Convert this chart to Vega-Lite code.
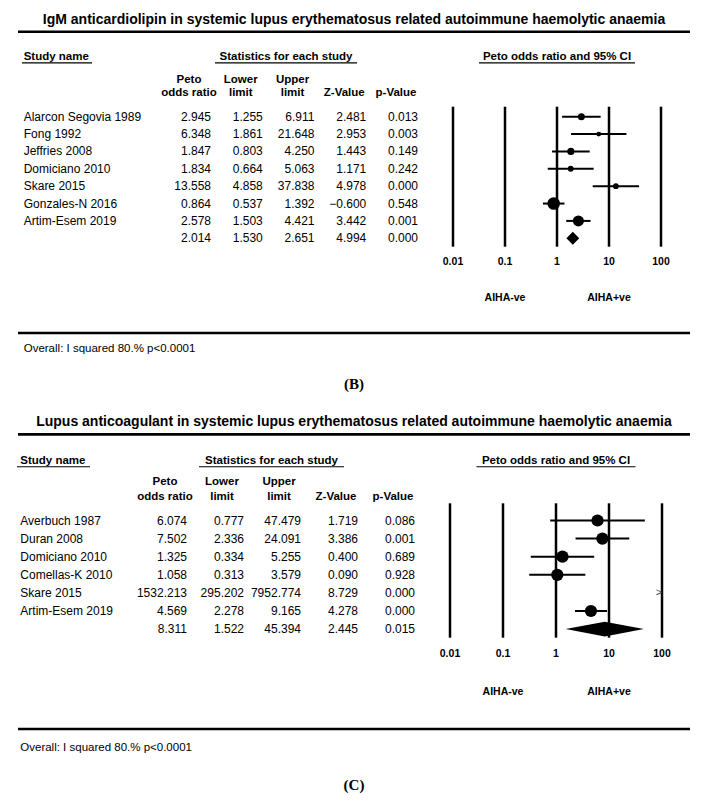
{
  "$schema": "https://vega.github.io/schema/vega-lite/v6.json",
  "padding": {"left": 16, "top": 0, "right": 0, "bottom": 0},
  "spacing": 0,
  "bounds": "flush",
  "config": {"view": {"stroke": null}, "text": {"font": "Liberation Sans", "color": "#000"}, "rule": {"color": "#000"}},
  "datasets": {
    "b": [
      {"study": "Alarcon Segovia 1989", "row": 1, "or": 2.945, "lower": 1.255, "upper": 6.911, "z": 2.481, "p": 0.013, "weight": 5.28},
      {"study": "Fong 1992", "row": 2, "or": 6.348, "lower": 1.861, "upper": 21.648, "z": 2.953, "p": 0.003, "weight": 2.55},
      {"study": "Jeffries 2008", "row": 3, "or": 1.847, "lower": 0.803, "upper": 4.25, "z": 1.443, "p": 0.149, "weight": 5.53},
      {"study": "Domiciano 2010", "row": 4, "or": 1.834, "lower": 0.664, "upper": 5.063, "z": 1.171, "p": 0.242, "weight": 3.72},
      {"study": "Skare 2015", "row": 5, "or": 13.558, "lower": 4.858, "upper": 37.838, "z": 4.978, "p": 0.0, "weight": 3.65},
      {"study": "Gonzales-N 2016", "row": 6, "or": 0.864, "lower": 0.537, "upper": 1.392, "z": -0.6, "p": 0.548, "weight": 16.9},
      {"study": "Artim-Esem 2019", "row": 7, "or": 2.578, "lower": 1.503, "upper": 4.421, "z": 3.442, "p": 0.001, "weight": 13.2},
      {"study": "", "row": 8, "or": 2.014, "lower": 1.53, "upper": 2.651, "z": 4.994, "p": 0.0, "weight": null}
    ],
    "c": [
      {"study": "Averbuch 1987", "row": 1, "or": 6.074, "lower": 0.777, "upper": 47.479, "z": 1.719, "p": 0.086},
      {"study": "Duran 2008", "row": 2, "or": 7.502, "lower": 2.336, "upper": 24.091, "z": 3.386, "p": 0.001},
      {"study": "Domiciano 2010", "row": 3, "or": 1.325, "lower": 0.334, "upper": 5.255, "z": 0.4, "p": 0.689},
      {"study": "Comellas-K 2010", "row": 4, "or": 1.058, "lower": 0.313, "upper": 3.579, "z": 0.09, "p": 0.928},
      {"study": "Skare 2015", "row": 5, "or": 1532.213, "lower": 295.202, "upper": 7952.774, "z": 8.729, "p": 0.0},
      {"study": "Artim-Esem 2019", "row": 6, "or": 4.569, "lower": 2.278, "upper": 9.165, "z": 4.278, "p": 0.0},
      {"study": "", "row": 7, "or": 8.311, "lower": 1.522, "upper": 45.394, "z": 2.445, "p": 0.015}
    ],
    "ticks": [
      {"t": 0.01, "label": "0.01"}, {"t": 0.1, "label": "0.1"}, {"t": 1, "label": "1"}, {"t": 10, "label": "10"}, {"t": 100, "label": "100"}
    ],
    "aiha": [{"t": 0.1, "label": "AIHA-ve"}, {"t": 10, "label": "AIHA+ve"}],
    "hdr": [
      {"key": "or", "label": "Peto\nodds ratio"},
      {"key": "lower", "label": "Lower\nlimit"},
      {"key": "upper", "label": "Upper\nlimit"},
      {"key": "z", "label": "\nZ-Value"},
      {"key": "p", "label": "\np-Value"}
    ]
  },
  "vconcat": [
    {
      "width": 672,
      "height": 402,
      "resolve": {"scale": {"x": "independent"}},
      "layer": [
        {
          "data": {"values": [{}]},
          "layer": [
            {"mark": {"type": "text", "text": "IgM anticardiolipin in systemic lupus erythematosus related autoimmune haemolytic anaemia", "fontSize": 14, "fontWeight": "bold", "align": "center", "baseline": "middle"},
             "encoding": {"y": {"datum": -4.55, "scale": {"domain": [-5.7185, 17.425], "reverse": true, "nice": false, "zero": false}, "axis": null}}},
            {"mark": {"type": "rule", "strokeWidth": 2.6},
             "encoding": {"y": {"datum": -3.89, "scale": {"domain": [-5.7185, 17.425], "reverse": true, "nice": false, "zero": false}, "axis": null}}},
            {"mark": {"type": "rule", "strokeWidth": 2.6},
             "encoding": {"y": {"datum": 13.45, "scale": {"domain": [-5.7185, 17.425], "reverse": true, "nice": false, "zero": false}, "axis": null}}},
            {"mark": {"type": "text", "text": "(B)", "font": "Liberation Serif", "fontSize": 15, "fontWeight": "bold", "align": "center", "baseline": "middle"},
             "encoding": {"y": {"datum": 16.4, "scale": {"domain": [-5.7185, 17.425], "reverse": true, "nice": false, "zero": false}, "axis": null}}}
          ]
        },
        {
          "data": {"name": "b"},
          "encoding": {"x": {"datum": 0, "scale": {"domain": [0, 1], "range": [4, 74], "nice": false, "zero": false}, "axis": null}},
          "layer": [
            {"mark": {"type": "text", "align": "left", "baseline": "middle", "fontSize": 12, "dx": 1.7},
             "encoding": {"y": {"field": "row", "type": "quantitative", "scale": {"domain": [-5.7185, 17.425], "reverse": true, "nice": false, "zero": false}, "axis": null}, "text": {"field": "study"}}},
            {"data": {"values": [{}]}, "mark": {"type": "text", "text": "Study name", "align": "left", "baseline": "middle", "fontSize": 11.5, "fontWeight": "bold", "dx": 1.7},
             "encoding": {"y": {"datum": -2.45, "scale": {"domain": [-5.7185, 17.425], "reverse": true, "nice": false, "zero": false}, "axis": null}}},
            {"data": {"values": [{}]}, "mark": {"type": "rule", "strokeWidth": 1.2},
             "encoding": {"x2": {"datum": 1}, "y": {"datum": -2.1, "scale": {"domain": [-5.7185, 17.425], "reverse": true, "nice": false, "zero": false}, "axis": null}}},
            {"data": {"values": [{}]}, "mark": {"type": "text", "text": "Overall: I squared 80.% p<0.0001", "align": "left", "baseline": "middle", "fontSize": 11.5, "dx": 1.7},
             "encoding": {"y": {"datum": 14.4, "scale": {"domain": [-5.7185, 17.425], "reverse": true, "nice": false, "zero": false}, "axis": null}}}
          ]
        },
        {
          "layer": [
            {"data": {"name": "b"}, "transform": [{"fold": ["or", "lower", "upper", "z", "p"], "as": ["key", "val"]}],
             "mark": {"type": "text", "align": "right", "baseline": "middle", "fontSize": 12},
             "encoding": {
               "x": {"field": "key", "type": "nominal", "scale": {"type": "point", "domain": ["or", "lower", "upper", "z", "p"], "range": [193, 400], "padding": 0}, "axis": null},
               "y": {"field": "row", "type": "quantitative", "scale": {"domain": [-5.7185, 17.425], "reverse": true, "nice": false, "zero": false}, "axis": null},
               "text": {"field": "val", "type": "quantitative", "format": ".3f"}}},
            {"data": {"name": "hdr"},
             "mark": {"type": "text", "align": "center", "baseline": "middle", "fontSize": 11.5, "fontWeight": "bold", "lineBreak": "\n", "lineHeight": 13.5, "dx": -22},
             "encoding": {
               "x": {"field": "key", "type": "nominal", "scale": {"type": "point", "domain": ["or", "lower", "upper", "z", "p"], "range": [193, 400], "padding": 0}, "axis": null},
               "y": {"datum": -1.113, "scale": {"domain": [-5.7185, 17.425], "reverse": true, "nice": false, "zero": false}, "axis": null},
               "text": {"field": "label"}}}
          ]
        },
        {
          "data": {"values": [{}]},
          "layer": [
            {"mark": {"type": "text", "text": "Statistics for each study", "align": "center", "baseline": "middle", "fontSize": 11.5, "fontWeight": "bold"},
             "encoding": {"x": {"datum": 0.5, "scale": {"domain": [0, 1], "range": [197, 339], "nice": false, "zero": false}, "axis": null},
                          "y": {"datum": -2.45, "scale": {"domain": [-5.7185, 17.425], "reverse": true, "nice": false, "zero": false}, "axis": null}}},
            {"mark": {"type": "rule", "strokeWidth": 1.2},
             "encoding": {"x": {"datum": 0, "scale": {"domain": [0, 1], "range": [197, 339], "nice": false, "zero": false}, "axis": null}, "x2": {"datum": 1},
                          "y": {"datum": -2.1, "scale": {"domain": [-5.7185, 17.425], "reverse": true, "nice": false, "zero": false}, "axis": null}}}
          ]
        },
        {
          "layer": [
            {"data": {"name": "ticks"}, "mark": {"type": "rule", "strokeWidth": 2.5},
             "encoding": {"x": {"field": "t", "type": "quantitative", "scale": {"type": "log", "domain": [0.01, 100], "range": [435, 643], "nice": false}, "axis": null},
                          "y": {"datum": 0.424, "scale": {"domain": [-5.7185, 17.425], "reverse": true, "nice": false, "zero": false}, "axis": null}, "y2": {"datum": 8.484}}},
            {"data": {"name": "ticks"}, "mark": {"type": "text", "fontSize": 10.5, "fontWeight": "bold", "align": "center", "baseline": "middle"},
             "encoding": {"x": {"field": "t", "type": "quantitative", "scale": {"type": "log", "domain": [0.01, 100], "range": [435, 643], "nice": false}, "axis": null},
                          "y": {"datum": 9.348, "scale": {"domain": [-5.7185, 17.425], "reverse": true, "nice": false, "zero": false}, "axis": null}, "text": {"field": "label"}}},
            {"data": {"name": "aiha"}, "mark": {"type": "text", "fontSize": 10.5, "fontWeight": "bold", "align": "center", "baseline": "middle"},
             "encoding": {"x": {"field": "t", "type": "quantitative", "scale": {"type": "log", "domain": [0.01, 100], "range": [435, 643], "nice": false}, "axis": null},
                          "y": {"datum": 11.455, "scale": {"domain": [-5.7185, 17.425], "reverse": true, "nice": false, "zero": false}, "axis": null}, "text": {"field": "label"}}},
            {"data": {"values": [{}]}, "mark": {"type": "text", "text": "Peto odds ratio and 95% CI", "fontSize": 11.5, "fontWeight": "bold", "align": "center", "baseline": "middle"},
             "encoding": {"x": {"datum": 1, "scale": {"type": "log", "domain": [0.01, 100], "range": [435, 643], "nice": false}, "axis": null},
                          "y": {"datum": -2.45, "scale": {"domain": [-5.7185, 17.425], "reverse": true, "nice": false, "zero": false}, "axis": null}}},
            {"data": {"values": [{}]}, "mark": {"type": "rule", "strokeWidth": 1.2},
             "encoding": {"x": {"datum": 0.0316, "scale": {"type": "log", "domain": [0.01, 100], "range": [435, 643], "nice": false}, "axis": null}, "x2": {"datum": 31.6},
                          "y": {"datum": -2.1, "scale": {"domain": [-5.7185, 17.425], "reverse": true, "nice": false, "zero": false}, "axis": null}}},
            {"data": {"name": "b"}, "transform": [{"filter": "datum.study != ''"}], "mark": {"type": "rule", "strokeWidth": 2},
             "encoding": {"x": {"field": "lower", "type": "quantitative", "scale": {"type": "log", "domain": [0.01, 100], "range": [435, 643], "nice": false}, "axis": null}, "x2": {"field": "upper"},
                          "y": {"field": "row", "type": "quantitative", "scale": {"domain": [-5.7185, 17.425], "reverse": true, "nice": false, "zero": false}, "axis": null}}},
            {"data": {"name": "b"}, "transform": [{"filter": "datum.study != ''"}], "mark": {"type": "point", "shape": "circle", "filled": true, "color": "#000", "opacity": 1},
             "encoding": {"x": {"field": "or", "type": "quantitative", "scale": {"type": "log", "domain": [0.01, 100], "range": [435, 643], "nice": false}, "axis": null},
                          "y": {"field": "row", "type": "quantitative", "scale": {"domain": [-5.7185, 17.425], "reverse": true, "nice": false, "zero": false}, "axis": null},
                          "size": {"field": "weight", "type": "quantitative", "scale": {"domain": [0, 17], "range": [0, 158]}, "legend": null}}},
            {"data": {"name": "b"}, "transform": [{"filter": "datum.study == ''"}], "mark": {"type": "point", "shape": "diamond", "filled": true, "color": "#000", "opacity": 1, "size": 165},
             "encoding": {"x": {"field": "or", "type": "quantitative", "scale": {"type": "log", "domain": [0.01, 100], "range": [435, 643], "nice": false}, "axis": null},
                          "y": {"field": "row", "type": "quantitative", "scale": {"domain": [-5.7185, 17.425], "reverse": true, "nice": false, "zero": false}, "axis": null}}}
          ]
        }
      ]
    },
    {
      "width": 672,
      "height": 406,
      "resolve": {"scale": {"x": "independent"}},
      "layer": [
        {
          "data": {"values": [{}]},
          "layer": [
            {"mark": {"type": "text", "text": "Lupus anticoagulant in systemic lupus erythematosus related autoimmune haemolytic anaemia", "fontSize": 14, "fontWeight": "bold", "align": "center", "baseline": "middle"},
             "encoding": {"y": {"datum": -4.42, "scale": {"domain": [-5.547, 16.884], "reverse": true, "nice": false, "zero": false}, "axis": null}}},
            {"mark": {"type": "rule", "strokeWidth": 2.6},
             "encoding": {"y": {"datum": -3.76, "scale": {"domain": [-5.547, 16.884], "reverse": true, "nice": false, "zero": false}, "axis": null}}},
            {"mark": {"type": "rule", "strokeWidth": 2.6},
             "encoding": {"y": {"datum": 12.52, "scale": {"domain": [-5.547, 16.884], "reverse": true, "nice": false, "zero": false}, "axis": null}}},
            {"mark": {"type": "text", "text": "(C)", "font": "Liberation Serif", "fontSize": 15, "fontWeight": "bold", "align": "center", "baseline": "middle"},
             "encoding": {"y": {"datum": 15.6, "scale": {"domain": [-5.547, 16.884], "reverse": true, "nice": false, "zero": false}, "axis": null}}}
          ]
        },
        {
          "data": {"name": "c"},
          "encoding": {"x": {"datum": 0, "scale": {"domain": [0, 1], "range": [-1, 72], "nice": false, "zero": false}, "axis": null}},
          "layer": [
            {"mark": {"type": "text", "align": "left", "baseline": "middle", "fontSize": 12, "dx": 3.3},
             "encoding": {"y": {"field": "row", "type": "quantitative", "scale": {"domain": [-5.547, 16.884], "reverse": true, "nice": false, "zero": false}, "axis": null}, "text": {"field": "study"}}},
            {"data": {"values": [{}]}, "mark": {"type": "text", "text": "Study name", "align": "left", "baseline": "middle", "fontSize": 11.5, "fontWeight": "bold", "dx": 3.3},
             "encoding": {"y": {"datum": -2.3, "scale": {"domain": [-5.547, 16.884], "reverse": true, "nice": false, "zero": false}, "axis": null}}},
            {"data": {"values": [{}]}, "mark": {"type": "rule", "strokeWidth": 1.2},
             "encoding": {"x2": {"datum": 1}, "y": {"datum": -1.97, "scale": {"domain": [-5.547, 16.884], "reverse": true, "nice": false, "zero": false}, "axis": null}}},
            {"data": {"values": [{}]}, "mark": {"type": "text", "text": "Overall: I squared 80.% p<0.0001", "align": "left", "baseline": "middle", "fontSize": 11.5, "dx": 3.3},
             "encoding": {"y": {"datum": 13.55, "scale": {"domain": [-5.547, 16.884], "reverse": true, "nice": false, "zero": false}, "axis": null}}}
          ]
        },
        {
          "layer": [
            {"data": {"name": "c"}, "transform": [{"fold": ["or", "lower", "upper", "z", "p"], "as": ["key", "val"]}],
             "mark": {"type": "text", "align": "right", "baseline": "middle", "fontSize": 12},
             "encoding": {
               "x": {"field": "key", "type": "nominal", "scale": {"type": "point", "domain": ["or", "lower", "upper", "z", "p"], "range": [169, 397], "padding": 0}, "axis": null},
               "y": {"field": "row", "type": "quantitative", "scale": {"domain": [-5.547, 16.884], "reverse": true, "nice": false, "zero": false}, "axis": null},
               "text": {"field": "val", "type": "quantitative", "format": ".3f"}}},
            {"data": {"name": "hdr"},
             "mark": {"type": "text", "align": "center", "baseline": "middle", "fontSize": 11.5, "fontWeight": "bold", "lineBreak": "\n", "lineHeight": 15, "dx": -22},
             "encoding": {
               "x": {"field": "key", "type": "nominal", "scale": {"type": "point", "domain": ["or", "lower", "upper", "z", "p"], "range": [169, 397], "padding": 0}, "axis": null},
               "y": {"datum": -1.144, "scale": {"domain": [-5.547, 16.884], "reverse": true, "nice": false, "zero": false}, "axis": null},
               "text": {"field": "label"}}}
          ]
        },
        {
          "data": {"values": [{}]},
          "layer": [
            {"mark": {"type": "text", "text": "Statistics for each study", "align": "center", "baseline": "middle", "fontSize": 11.5, "fontWeight": "bold"},
             "encoding": {"x": {"datum": 0.5, "scale": {"domain": [0, 1], "range": [181, 326], "nice": false, "zero": false}, "axis": null},
                          "y": {"datum": -2.3, "scale": {"domain": [-5.547, 16.884], "reverse": true, "nice": false, "zero": false}, "axis": null}}},
            {"mark": {"type": "rule", "strokeWidth": 1.2},
             "encoding": {"x": {"datum": 0, "scale": {"domain": [0, 1], "range": [181, 326], "nice": false, "zero": false}, "axis": null}, "x2": {"datum": 1},
                          "y": {"datum": -1.97, "scale": {"domain": [-5.547, 16.884], "reverse": true, "nice": false, "zero": false}, "axis": null}}}
          ]
        },
        {
          "layer": [
            {"data": {"name": "ticks"}, "mark": {"type": "rule", "strokeWidth": 2.5},
             "encoding": {"x": {"field": "t", "type": "quantitative", "scale": {"type": "log", "domain": [0.01, 100], "range": [432, 644], "nice": false}, "axis": null},
                          "y": {"datum": 0.05, "scale": {"domain": [-5.547, 16.884], "reverse": true, "nice": false, "zero": false}, "axis": null}, "y2": {"datum": 7.475}}},
            {"data": {"name": "ticks"}, "mark": {"type": "text", "fontSize": 10.5, "fontWeight": "bold", "align": "center", "baseline": "middle"},
             "encoding": {"x": {"field": "t", "type": "quantitative", "scale": {"type": "log", "domain": [0.01, 100], "range": [432, 644], "nice": false}, "axis": null},
                          "y": {"datum": 8.376, "scale": {"domain": [-5.547, 16.884], "reverse": true, "nice": false, "zero": false}, "axis": null}, "text": {"field": "label"}}},
            {"data": {"name": "aiha"}, "mark": {"type": "text", "fontSize": 10.5, "fontWeight": "bold", "align": "center", "baseline": "middle"},
             "encoding": {"x": {"field": "t", "type": "quantitative", "scale": {"type": "log", "domain": [0.01, 100], "range": [432, 644], "nice": false}, "axis": null},
                          "y": {"datum": 10.459, "scale": {"domain": [-5.547, 16.884], "reverse": true, "nice": false, "zero": false}, "axis": null}, "text": {"field": "label"}}},
            {"data": {"values": [{}]}, "mark": {"type": "text", "text": "Peto odds ratio and 95% CI", "fontSize": 11.5, "fontWeight": "bold", "align": "center", "baseline": "middle"},
             "encoding": {"x": {"datum": 1, "scale": {"type": "log", "domain": [0.01, 100], "range": [432, 644], "nice": false}, "axis": null},
                          "y": {"datum": -2.3, "scale": {"domain": [-5.547, 16.884], "reverse": true, "nice": false, "zero": false}, "axis": null}}},
            {"data": {"values": [{}]}, "mark": {"type": "rule", "strokeWidth": 1.2},
             "encoding": {"x": {"datum": 0.0316, "scale": {"type": "log", "domain": [0.01, 100], "range": [432, 644], "nice": false}, "axis": null}, "x2": {"datum": 31.6},
                          "y": {"datum": -1.97, "scale": {"domain": [-5.547, 16.884], "reverse": true, "nice": false, "zero": false}, "axis": null}}},
            {"data": {"name": "c"}, "transform": [{"filter": "datum.study != '' && datum.lower < 100"}], "mark": {"type": "rule", "strokeWidth": 2},
             "encoding": {"x": {"field": "lower", "type": "quantitative", "scale": {"type": "log", "domain": [0.01, 100], "range": [432, 644], "nice": false}, "axis": null}, "x2": {"field": "upper"},
                          "y": {"field": "row", "type": "quantitative", "scale": {"domain": [-5.547, 16.884], "reverse": true, "nice": false, "zero": false}, "axis": null}}},
            {"data": {"name": "c"}, "transform": [{"filter": "datum.study != '' && datum.lower < 100"}], "mark": {"type": "point", "shape": "circle", "filled": true, "color": "#000", "opacity": 1, "size": 150},
             "encoding": {"x": {"field": "or", "type": "quantitative", "scale": {"type": "log", "domain": [0.01, 100], "range": [432, 644], "nice": false}, "axis": null},
                          "y": {"field": "row", "type": "quantitative", "scale": {"domain": [-5.547, 16.884], "reverse": true, "nice": false, "zero": false}, "axis": null}}},
            {"data": {"name": "c"}, "transform": [{"filter": "datum.lower >= 100"}], "mark": {"type": "text", "text": ">", "fontSize": 11, "color": "#444", "align": "center", "baseline": "middle", "dx": -3},
             "encoding": {"x": {"datum": 100, "scale": {"type": "log", "domain": [0.01, 100], "range": [432, 644], "nice": false}, "axis": null},
                          "y": {"field": "row", "type": "quantitative", "scale": {"domain": [-5.547, 16.884], "reverse": true, "nice": false, "zero": false}, "axis": null}}},
            {"data": {"name": "c"}, "transform": [{"filter": "datum.study == ''"}], "mark": {"type": "point", "shape": "M-1,0L0,-0.19L1,0L0,0.19Z", "filled": true, "color": "#000", "opacity": 1, "size": 6115},
             "encoding": {"x": {"field": "or", "type": "quantitative", "scale": {"type": "log", "domain": [0.01, 100], "range": [432, 644], "nice": false}, "axis": null},
                          "y": {"field": "row", "type": "quantitative", "scale": {"domain": [-5.547, 16.884], "reverse": true, "nice": false, "zero": false}, "axis": null}}}
          ]
        }
      ]
    }
  ]
}
